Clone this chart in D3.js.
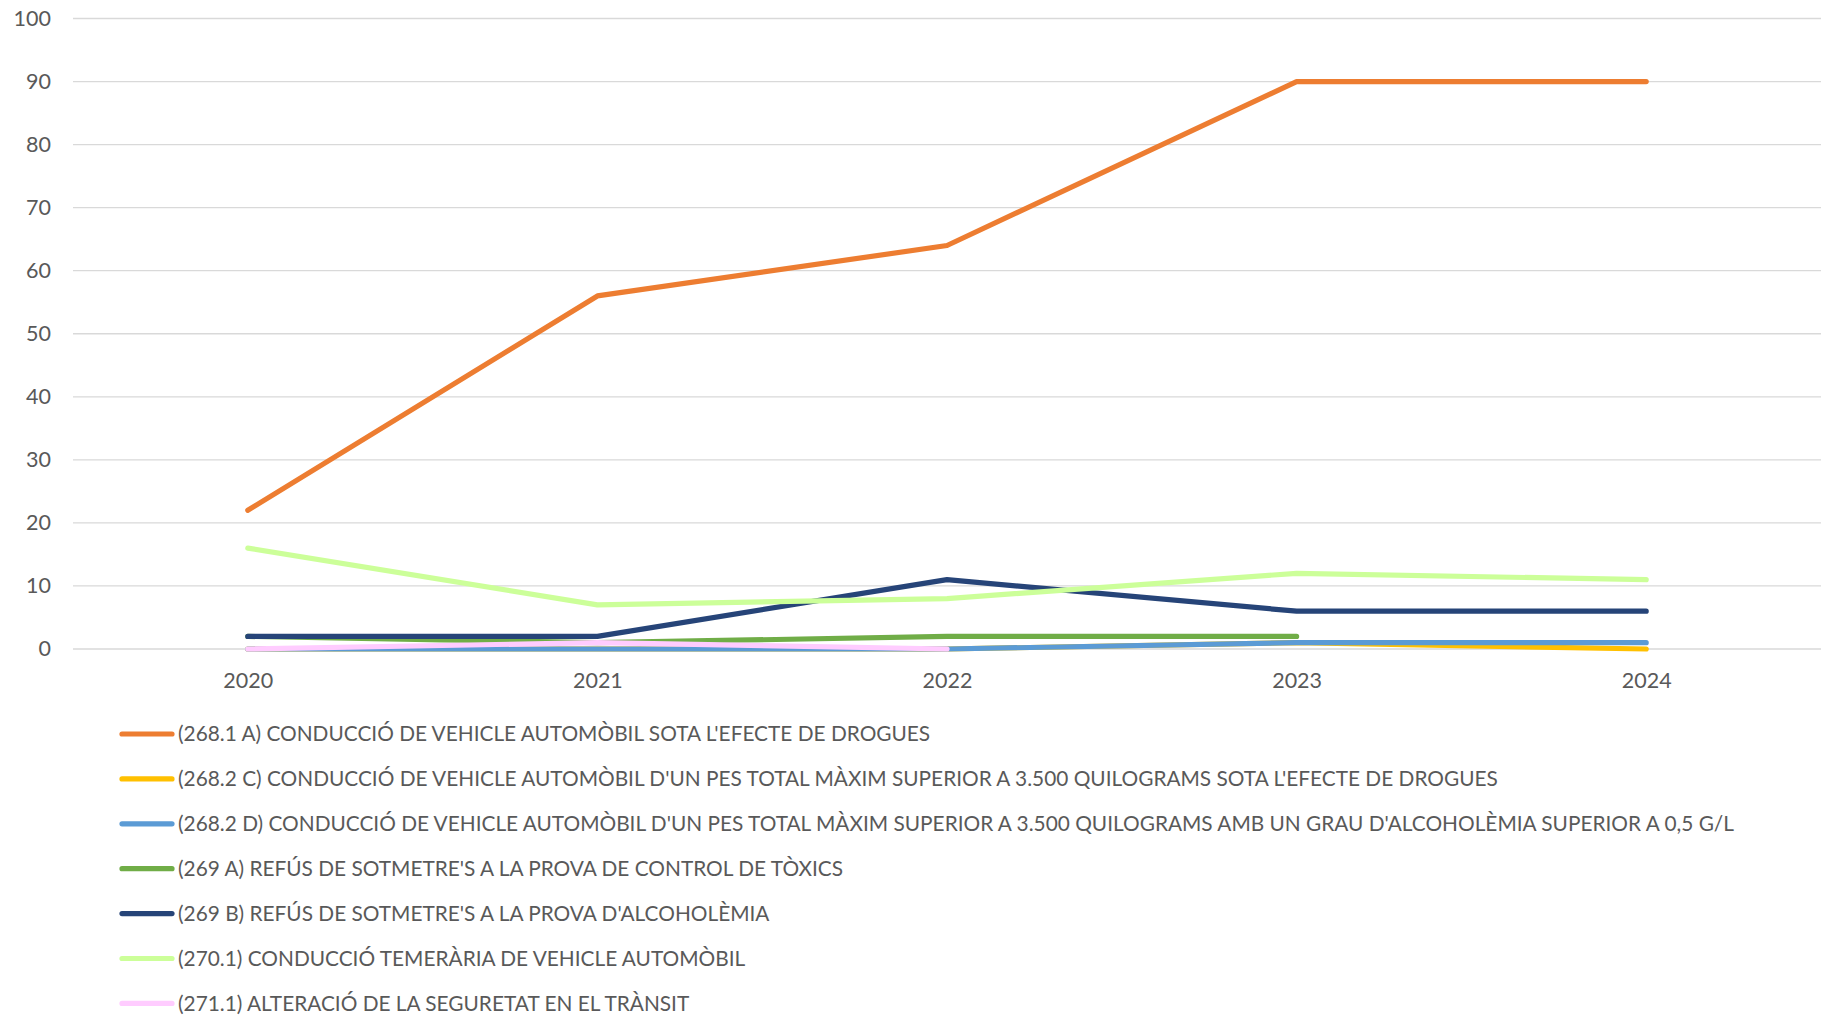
<!DOCTYPE html>
<html><head><meta charset="utf-8">
<script src="https://cdn.jsdelivr.net/npm/d3@7"></script>
<style>body{margin:0;background:#fff;} svg{display:block;font-family:Lato,"Open Sans",sans-serif;}</style>
</head><body>
<svg id="c" width="1821" height="1016"></svg>
<script>
const years = ["2020","2021","2022","2023","2024"];
const yTicks = [0,10,20,30,40,50,60,70,80,90,100];
const seriesNames = [
  "(268.1 A) CONDUCCIÓ DE VEHICLE AUTOMÒBIL SOTA L'EFECTE DE DROGUES",
  "(268.2 C) CONDUCCIÓ DE VEHICLE AUTOMÒBIL D'UN PES TOTAL MÀXIM SUPERIOR A 3.500 QUILOGRAMS SOTA L'EFECTE DE DROGUES",
  "(268.2 D) CONDUCCIÓ DE VEHICLE AUTOMÒBIL D'UN PES TOTAL MÀXIM SUPERIOR A 3.500 QUILOGRAMS AMB UN GRAU D'ALCOHOLÈMIA SUPERIOR A 0,5 G/L",
  "(269 A) REFÚS DE SOTMETRE'S A LA PROVA DE CONTROL DE TÒXICS",
  "(269 B) REFÚS DE SOTMETRE'S A LA PROVA D'ALCOHOLÈMIA",
  "(270.1) CONDUCCIÓ TEMERÀRIA DE VEHICLE AUTOMÒBIL",
  "(271.1) ALTERACIÓ DE LA SEGURETAT EN EL TRÀNSIT"
];
const s2681A = [22, 56, 64, 90, 90];
const s2682C = [0, 0, 0, 1, 0];
const s2682D = [0, 0, 0, 1, 1];
const s269A  = [2, 1, 2, 2, null];
const s269B  = [2, 2, 11, 6, 6];
const s2701  = [16, 7, 8, 12, 11];
const s2711  = [0, 1, 0, null, null];
const seriesValues = [s2681A, s2682C, s2682D, s269A, s269B, s2701, s2711];
const colors = ["#ED7D31","#FFC000","#5B9BD5","#70AD47","#264478","#CCFF99","#FFCCFF"];

const svg = d3.select("#c");
const pLeft = 73, pRight = 1821, pTop = 18.5, pBottom = 649;
const x = d3.scalePoint().domain(years).range([pLeft, pRight]).padding(0.5);
const y = d3.scaleLinear().domain([0,100]).range([pBottom, pTop]);

svg.append("g").selectAll("line").data(yTicks).join("line")
  .attr("x1", pLeft).attr("x2", pRight)
  .attr("y1", d=>y(d)).attr("y2", d=>y(d))
  .attr("stroke", "#d9d9d9").attr("stroke-width", 1.3);

const yAxis = svg.append("g").attr("transform", `translate(${pLeft-22},0)`)
  .call(d3.axisLeft(y).tickValues(yTicks).tickSize(0).tickPadding(0));
yAxis.select(".domain").remove();
yAxis.selectAll("text").attr("fill","#595959").style("font-size","21.5px").style("font-family","Lato,'Open Sans',sans-serif");

const xAxis = svg.append("g").attr("transform", `translate(0,${pBottom})`)
  .call(d3.axisBottom(x).tickSize(0).tickPadding(24));
xAxis.select(".domain").remove();
xAxis.selectAll("text").attr("fill","#595959").style("font-size","21.5px").style("font-family","Lato,'Open Sans',sans-serif");

const line = d3.line().defined(d=>d.v!==null).x(d=>x(d.yr)).y(d=>y(d.v));
seriesValues.forEach((vals,i)=>{
  svg.append("path")
    .datum(vals.map((v,j)=>({yr:years[j], v})))
    .attr("d", line)
    .attr("fill","none").attr("stroke", colors[i]).attr("stroke-width", 5.2)
    .attr("stroke-linecap","round").attr("stroke-linejoin","round");
});

const legY0 = 734, legDy = 44.9;
const leg = svg.append("g");
const items = leg.selectAll("g").data(seriesNames).join("g")
  .attr("transform", (d,i)=>`translate(0,${legY0 + i*legDy})`);
items.append("line").attr("x1",122).attr("x2",172).attr("y1",0).attr("y2",0)
  .attr("stroke",(d,i)=>colors[i]).attr("stroke-width",5.2).attr("stroke-linecap","round");
const texts = items.append("text").attr("x",178).attr("y",0).attr("dy","0.35em")
  .attr("fill","#595959").style("font-size","20px").text(d=>d);
const longest = texts.filter((d,i)=>i===2).node();
const w = longest.getComputedTextLength();
const fs = 20 * 1556 / w;
texts.style("font-size", fs.toFixed(2)+"px");
</script>
</body></html>
